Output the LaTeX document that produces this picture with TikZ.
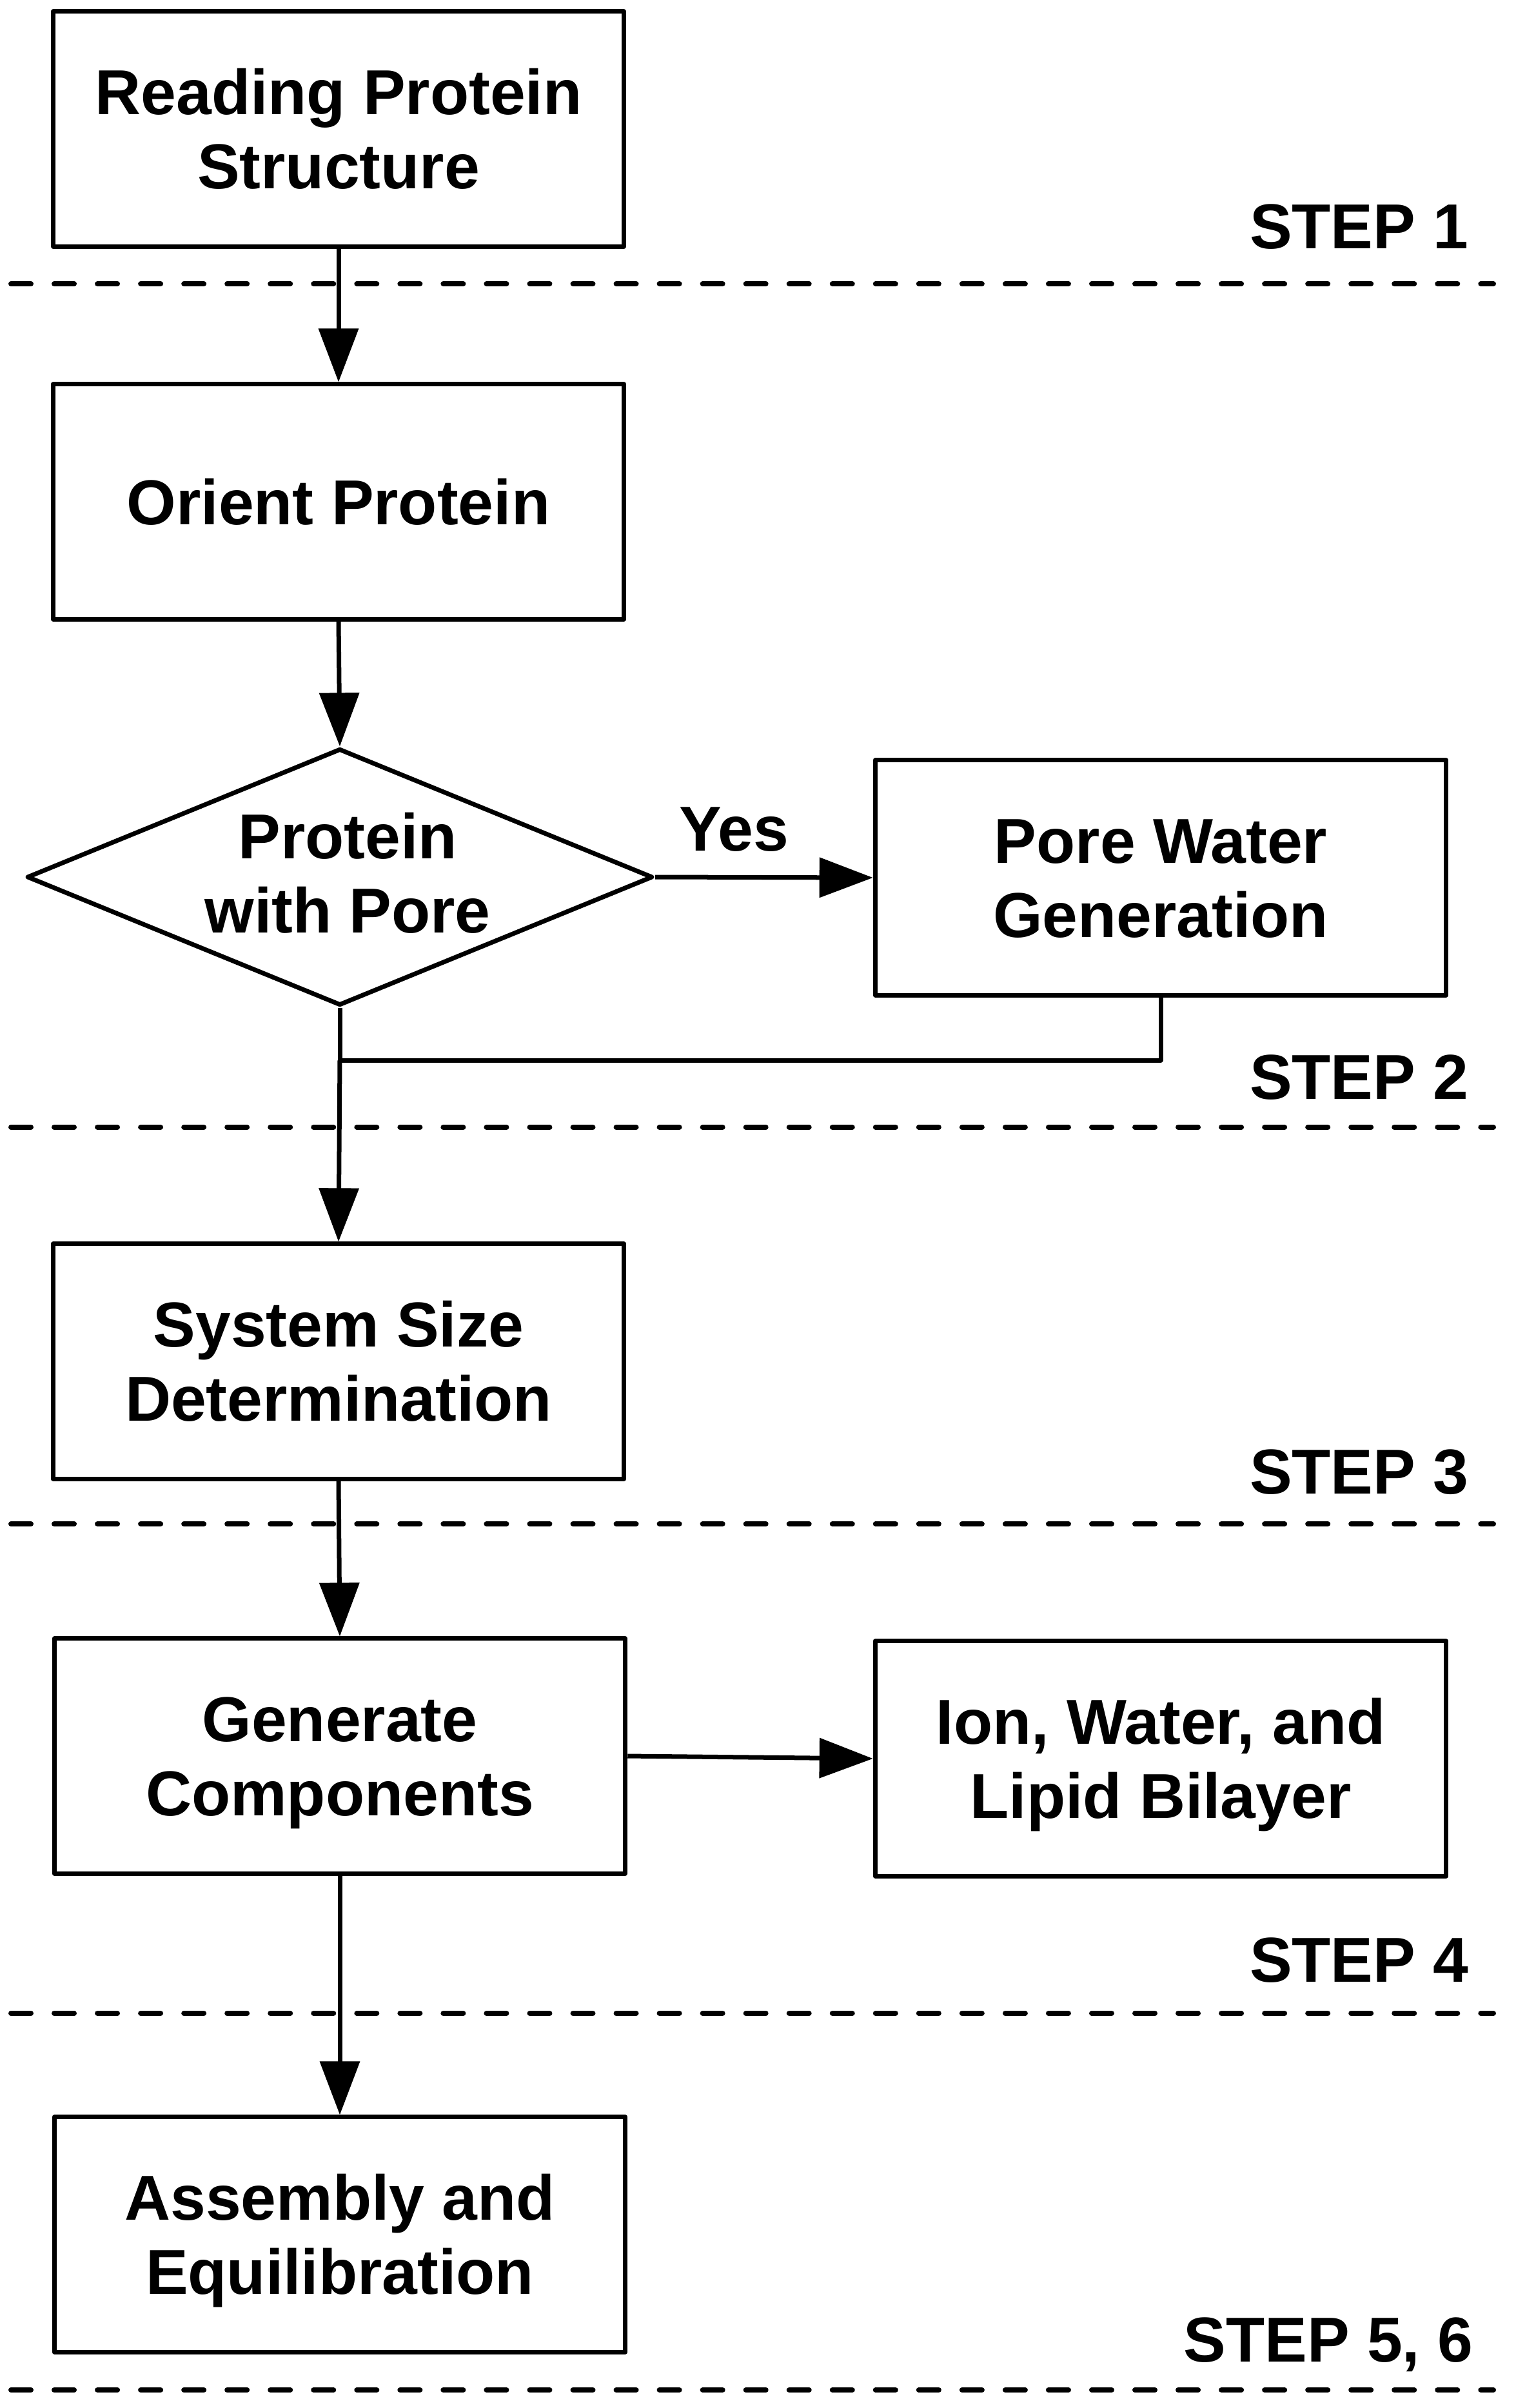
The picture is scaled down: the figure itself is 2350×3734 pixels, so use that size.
\documentclass[tikz,border=0pt]{standalone}
\usepackage{fontspec}
\setmainfont{Liberation Sans}
\usetikzlibrary{arrows.meta,shapes.geometric}
\newcommand{\tp}{\rule{0pt}{0.97em}}
\newcommand{\bt}{\rule[-0.25em]{0pt}{0.25em}}
\tikzset{
  boxfont/.style={font=\fontsize{28pt}{32.7pt}\selectfont\bfseries},
  stepbox/.style={draw, boxfont, line width=0.07cm, line join=round,
    minimum width=8.85cm, minimum height=3.64cm, align=center, inner sep=0pt},
  decision/.style={diamond, draw, line width=0.07cm, line join=round,
    minimum width=9.70cm, minimum height=3.98cm, inner sep=0pt},
  lbl/.style={boxfont, inner sep=0pt},
  conn/.style={line width=0.07cm, line join=round},
  arr/.style={conn, -{Triangle[length=0.83cm,width=0.61cm]}},
  divider/.style={line width=0.08cm, line cap=round, dash pattern=on 0.31cm off 0.36cm}
}
\begin{document}
\begin{tikzpicture}[x=0.01cm,y=-0.01cm]
\useasboundingbox (0,0) rectangle (2350,3734);
\fill[white] (0,0) rectangle (2350,3734);

% dividers
\coordinate (d1a) at (17,440);  \coordinate (d1b) at (2316,440);
\coordinate (d2a) at (17,1748); \coordinate (d2b) at (2316,1748);
\coordinate (d3a) at (17,2363); \coordinate (d3b) at (2316,2363);
\coordinate (d4a) at (17,3122); \coordinate (d4b) at (2316,3122);
\coordinate (d5a) at (17,3706); \coordinate (d5b) at (2316,3706);
\draw[divider] (d1a) -- (d1b);
\draw[divider] (d2a) -- (d2b);
\draw[divider] (d3a) -- (d3b);
\draw[divider] (d4a) -- (d4b);
\draw[divider] (d5a) -- (d5b);

% nodes
\node[stepbox] (read) at (525,200) {\tp Reading Protein\\Structure\bt};
\node[stepbox] (orient) at (525,778) {\tp Orient Protein\bt};
\node[decision] (dia) at (527,1360) {};
\node[lbl, align=center] (diatext) at (539,1354) {\tp Protein\\with Pore\bt};
\node[stepbox] (pore) at (1800,1361) {\tp Pore Water\\Generation\bt};
\node[stepbox] (sys) at (525,2111) {\tp System Size\\Determination\bt};
\node[stepbox] (gen) at (527,2723) {\tp Generate\\Components\bt};
\node[stepbox] (ion) at (1800,2727) {\tp Ion, Water, and\\Lipid Bilayer\bt};
\node[stepbox] (asm) at (527,3465) {\tp Assembly and\\Equilibration\bt};

% labels
\node[lbl, anchor=base] (yes) at (1138,1319) {Yes};
\node[lbl, anchor=base east] (s1) at (2278,386) {STEP 1};
\node[lbl, anchor=base east] (s2) at (2278,1704) {STEP 2};
\node[lbl, anchor=base east] (s3) at (2278,2316) {STEP 3};
\node[lbl, anchor=base east] (s4) at (2278,3073) {STEP 4};
\node[lbl, anchor=base east] (s5) at (2285,3662) {STEP 5, 6};

% connectors
\coordinate (m) at (527,1644);
\draw[arr] (read.south) -- (orient.north);
\draw[arr] (orient.south) -- (dia.north);
\draw[arr] (dia.east) -- (pore.west);
\draw[conn] (dia.south) -- (m);
\draw[conn] (pore.south) |- (m);
\draw[arr] (m) -- (sys.north);
\draw[arr] (sys.south) -- (gen.north);
\draw[arr] (gen.east) -- (ion.west);
\draw[arr] (gen.south) -- (asm.north);
\end{tikzpicture}
\end{document}
